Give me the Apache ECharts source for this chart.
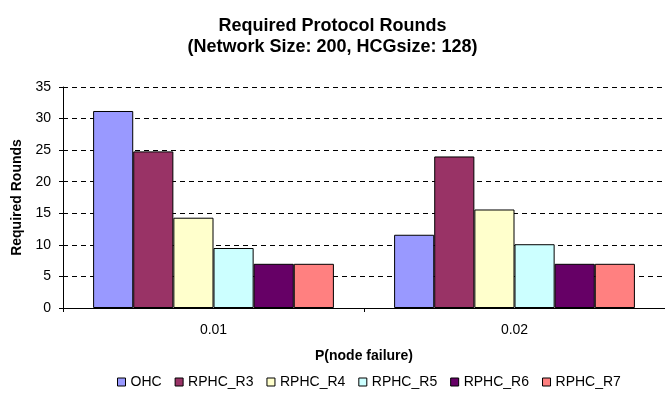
<!DOCTYPE html>
<html>
<head>
<meta charset="UTF-8">
<title>Required Protocol Rounds</title>
<script src="https://cdn.jsdelivr.net/npm/echarts@6/dist/echarts.min.js"></script>
</head>
<body style="margin:0">
<div id="main" style="width:665px;height:399px;"></div>
<script>
    var categories = ['0.01', '0.02'];
    var seriesNames = ['OHC', 'RPHC_R3', 'RPHC_R4', 'RPHC_R5', 'RPHC_R6', 'RPHC_R7'];
    var ohc = [31.2, 11.6];
    var r3 = [24.8, 24.0];
    var r4 = [14.3, 15.6];
    var r5 = [9.5, 10.1];
    var r6 = [7, 7];
    var r7 = [7, 7];
    var colors = ['#9999FF', '#993366', '#FFFFCC', '#CCFFFF', '#660066', '#FF8080'];

    var font = 'Arial, "Liberation Sans", sans-serif';
    var values = [ohc, r3, r4, r5, r6, r7];
    var series = seriesNames.map(function (name, i) {
        return {
            name: name,
            type: 'bar',
            data: values[i],
            barGap: '0%',
            barCategoryGap: '20%',
            itemStyle: { color: colors[i], borderColor: '#000', borderWidth: 1 }
        };
    });

    var myChart = echarts.init(document.getElementById('main'));
    var option = {
        animation: false,
        color: colors,
        title: {
            text: 'Required Protocol Rounds\n(Network Size: 200, HCGsize: 128)',
            left: 'center',
            top: 11,
            textStyle: { fontFamily: font, fontSize: 18, fontWeight: 'bold', lineHeight: 21, color: '#000' }
        },
        grid: { left: 63, top: 87, width: 607, height: 221 },
        legend: {
            data: seriesNames,
            left: 112,
            top: 370,
            itemWidth: 8,
            itemHeight: 8,
            itemGap: 13,
            icon: 'rect',
            itemStyle: { borderColor: '#000', borderWidth: 1 },
            textStyle: { fontFamily: font, fontSize: 14, color: '#000' }
        },
        xAxis: {
            type: 'category',
            data: categories,
            name: 'P(node failure)',
            nameLocation: 'middle',
            nameGap: 41,
            nameTextStyle: { fontFamily: font, fontSize: 14, fontWeight: 'bold', color: '#000' },
            axisLine: { lineStyle: { color: '#000' } },
            axisTick: { show: true, length: 4, lineStyle: { color: '#000' } },
            axisLabel: { fontFamily: font, fontSize: 14, color: '#000', margin: 15 }
        },
        yAxis: {
            type: 'value',
            min: 0,
            max: 35,
            interval: 5,
            name: 'Required Rounds',
            nameLocation: 'middle',
            nameGap: 37,
            nameTextStyle: { fontFamily: font, fontSize: 14, fontWeight: 'bold', color: '#000' },
            axisLine: { show: true, lineStyle: { color: '#000' } },
            axisTick: { show: true, length: 4, lineStyle: { color: '#000' } },
            axisLabel: { fontFamily: font, fontSize: 14, color: '#000', margin: 12 },
            splitLine: { lineStyle: { color: '#000', type: [5, 4], width: 1 } }
        },
        series: series
    };
    myChart.setOption(option);
</script>
</body>
</html>
